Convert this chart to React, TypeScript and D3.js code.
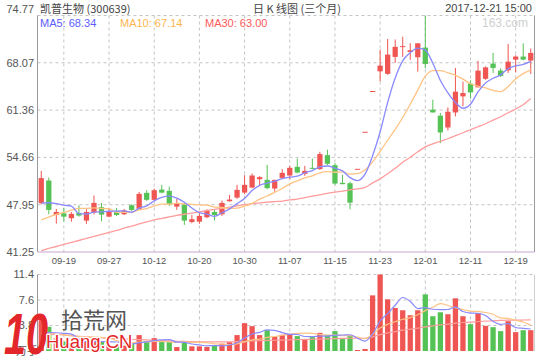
import * as d3 from "d3";

const dates = [
  "09-14", "09-15", "09-18", "09-19", "09-20", "09-21", "09-22", "09-25", "09-26", "09-27", "09-28", "09-29",
  "10-09", "10-10", "10-11", "10-12", "10-13", "10-16", "10-17", "10-18", "10-19", "10-20",
  "10-23", "10-24", "10-25", "10-26", "10-27", "10-30", "10-31",
  "11-01", "11-02", "11-03", "11-06", "11-07", "11-08", "11-09", "11-10", "11-13", "11-14", "11-15",
  "11-16", "11-17", "11-20", "11-21", "11-22", "11-23", "11-24", "11-27", "11-28", "11-29", "11-30",
  "12-01", "12-04", "12-05", "12-06", "12-07", "12-08", "12-11", "12-12", "12-13", "12-14", "12-15",
  "12-18", "12-19", "12-20", "12-21",
];

const opens = [
  48.17, 51.38, 46.5, 46.73, 46.04, 46.79, 45.7, 46.83, 47.6, 46.26, 47.03, 46.6, 47.88, 47.36, 49.63, 48.64,
  50.1, 49.91, 47.68, 47.97, 45.51, 45.55, 46.18, 46.93, 46.6, 48.44, 48.96, 49.67, 50.38, 51.57, 51.48, 50.24,
  51.76, 52.09, 53.32, 52.33, 53.18, 53.0, 54.98, 53.56, 51.05, 51.0, 53.04, 58.29, 64.07, 66.86, 66.5, 68.9,
  70.33, 69.6, 68.85, 70.22, 61.42, 60.57, 58.9, 61.03, 63.31, 65.11, 64.59, 65.8, 67.95, 66.96, 67.0, 68.52,
  68.95, 68.38,
];
const highs = [
  52.75, 51.8, 47.36, 47.5, 46.9, 47.88, 47.31, 49.25, 48.21, 47.4, 47.5, 47.36, 48.02, 49.77, 50.01, 50.24,
  50.77, 50.52, 48.82, 48.35, 46.5, 46.75, 47.31, 47.22, 48.54, 49.35, 50.77, 52.14, 52.37, 52.0, 53.6, 51.48,
  53.0, 53.46, 54.5, 53.46, 54.5, 55.45, 55.74, 53.85, 52.19, 51.23, 53.04, 58.29, 64.07, 69.94, 71.44, 71.37,
  71.77, 70.85, 70.83, 74.77, 62.84, 60.95, 61.74, 67.34, 65.4, 65.58, 68.34, 67.56, 69.47, 67.28, 70.74, 69.14,
  70.83, 70.08,
];
const lows = [
  48.0, 46.6, 45.27, 45.6, 45.55, 46.26, 45.23, 46.55, 45.61, 46.18, 46.36, 46.5, 47.07, 47.22, 48.49, 48.49,
  49.56, 47.78, 47.22, 45.09, 45.33, 45.23, 46.04, 45.7, 46.36, 48.4, 48.78, 49.44, 50.3, 50.62, 50.15, 49.81,
  51.62, 51.58, 52.4, 52.04, 53.0, 52.9, 53.56, 50.77, 50.86, 47.31, 53.04, 58.29, 64.07, 65.44, 66.36, 68.05,
  68.9, 68.48, 66.82, 67.28, 61.03, 56.69, 58.48, 60.47, 61.89, 63.02, 64.59, 65.65, 66.63, 66.06, 66.63, 66.72,
  68.42, 66.49,
];
const closes = [
  51.72, 47.22, 46.93, 46.26, 46.65, 46.41, 46.93, 48.21, 46.55, 47.03, 46.5, 47.12, 47.22, 49.49, 48.64, 50.01,
  49.67, 48.07, 48.11, 45.7, 45.9, 46.36, 47.07, 46.5, 48.21, 48.68, 50.06, 50.77, 52.09, 51.86, 50.3, 51.48,
  52.47, 53.18, 52.51, 52.75, 53.04, 55.13, 53.75, 50.95, 50.86, 48.25, 53.04, 58.29, 64.07, 67.67, 69.23, 70.33,
  70.43, 69.85, 70.83, 67.9, 61.03, 58.2, 61.13, 63.97, 63.78, 63.87, 66.96, 67.42, 67.34, 66.2, 68.23, 68.95,
  68.52, 69.47,
];
// closes of the 9 sessions before the window, for the MA5/MA10 warm-up
const priorCloses = [43.2, 43.0, 43.6, 43.5, 43.7, 47.0, 47.5, 47.4, 47.3];

const ma30 = [
  41.46, 41.75, 42.03, 42.32, 42.6, 42.88, 43.17, 43.45, 43.74, 44.02, 44.3, 44.62, 44.91, 45.23, 45.51, 45.8,
  46.01, 46.22, 46.43, 46.6, 46.76, 46.93, 47.12, 47.29, 47.43, 47.6, 47.78, 47.95, 48.1, 48.21, 48.31, 48.39,
  48.46, 48.64, 48.75, 48.96, 49.16, 49.35, 49.56, 49.73, 49.89, 50.06, 50.2, 50.41, 51.05, 51.62, 52.33, 53.11,
  53.96, 54.67, 55.45, 56.16, 56.59, 56.94, 57.3, 57.73, 58.15, 58.58, 59.0, 59.43, 59.93, 60.42, 60.99, 61.52,
  62.13, 63.0,
];

// volume in 万手
const volumes = [
  4.6, 3.6, 1.9, 1.4, 1.1, 1.0, 1.5, 2.0, 1.4, 0.9, 0.9, 0.8, 1.2, 2.37, 1.48, 1.92,
  1.33, 1.33, 0.59, 1.28, 0.69, 0.69, 0.59, 0.79, 1.09, 1.33, 2.37, 4.15, 3.7, 2.37, 3.1, 2.12,
  2.42, 2.42, 2.22, 1.63, 2.07, 2.71, 2.42, 2.96, 1.78, 2.22, 0.15, 0.3, 8.29, 11.4, 7.7, 6.42,
  6.07, 5.33, 6.07, 8.44, 5.18, 5.77, 5.48, 7.85, 5.18, 4.0, 5.63, 3.75, 3.55, 2.96, 4.44, 2.81,
  3.1, 3.1,
];
const priorVolumes = [3.0, 2.8, 2.6, 2.5, 2.4, 2.2, 2.0, 1.8, 1.7];
const volMa30 = [
  2.6, 2.5, 2.45, 2.4, 2.3, 2.2, 2.1, 2.0, 1.95, 1.9, 1.85, 1.8, 1.75,
  1.7, 1.65, 1.6, 1.55, 1.5, 1.45, 1.42, 1.4, 1.38, 1.36, 1.35, 1.35, 1.36,
  1.4, 1.45, 1.5, 1.55, 1.58, 1.6, 1.63, 1.66, 1.7, 1.72, 1.75, 1.78, 1.8, 1.85, 1.88, 1.9,
  1.9, 1.9, 2.1, 2.45, 2.7, 2.9, 3.1, 3.25, 3.4, 3.6, 3.75, 3.9, 4.0, 4.15, 4.25, 4.3,
  4.4, 4.45, 4.5, 4.55, 4.6, 4.6, 4.62, 4.65,
];

const priceTicks = [41.25, 47.95, 54.66, 61.36, 68.07, 74.77];
const volTicks = [11.4, 7.6, 3.8];
const dateTicks = ["09-19", "09-27", "10-12", "10-20", "10-30", "11-07", "11-15", "11-23", "12-01", "12-11", "12-19"];

const RED = "#ef5552";
const GREEN = "#55c255";
const C_MA5 = "#8a8aff";
const C_MA10 = "#ffc383";
const C_MA30 = "#ff9c9c";
const GRID = "#c4c4c4";
const NUM_FONT = "'Liberation Sans', Arial, sans-serif";
const CJK_FONT = "'Noto Sans CJK SC', sans-serif";

const P = { left: 37.5, right: 534.5, top: 15.5, bottom: 252 };
const V = { top: 274.5, bottom: 351 };

function movingAvg(series: number[], prior: number[], n: number) {
  const all = prior.concat(series);
  return series.map((_, i) => {
    const j = i + prior.length;
    return d3.mean(all.slice(j - n + 1, j + 1)) as number;
  });
}

export default function App() {
  const idx = d3.range(dates.length);
  const x = d3.scaleBand<number>().domain(idx).range([P.left, P.right]).paddingInner(0.3).paddingOuter(0.15);
  const cx = (i: number) => (x(i) as number) + x.bandwidth() / 2;
  const y = d3.scaleLinear().domain([41.25, 74.77]).range([P.bottom, P.top]);
  const yv = d3.scaleLinear().domain([0, 11.4]).range([V.bottom, V.top]);

  const ma5 = movingAvg(closes, priorCloses, 5);
  const ma10 = movingAvg(closes, priorCloses, 10);
  const vma5 = movingAvg(volumes, priorVolumes, 5);
  const vma10 = movingAvg(volumes, priorVolumes, 10);

  const line = (sc: d3.ScaleLinear<number, number>) =>
    d3.line<number>().x((_, i) => cx(i)).y((d) => sc(d)).curve(d3.curveMonotoneX);
  const pLine = line(y);
  const vLine = line(yv);

  const tickX = dateTicks.map((d) => cx(dates.indexOf(d)));
  const up = (i: number) => closes[i] >= opens[i];
  const bw = x.bandwidth();

  return (
    <svg width={540} height={360} style={{ position: "absolute", left: 0, top: 0, background: "#fff" }}>
      {/* header */}
      <text x={40} y={12.5} fontSize={11} fill="#444" fontFamily={CJK_FONT}>凯普生物 (300639)</text>
      <text x={253} y={12.5} fontSize={11} fill="#444" fontFamily={CJK_FONT}>日 K 线图 (三个月)</text>
      <text x={532} y={12} fontSize={11} fill="#444" fontFamily={NUM_FONT} textAnchor="end">2017-12-21 15:00</text>

      {/* price grid */}
      {priceTicks.slice(1, -1).map((t) => (
        <line key={t} x1={P.left} x2={P.right} y1={y(t)} y2={y(t)} stroke={GRID} strokeDasharray="3,3" />
      ))}
      <line x1={P.left} x2={P.right} y1={P.top} y2={P.top} stroke={GRID} strokeDasharray="3,3" />
      {tickX.map((tx, k) => (
        <line key={k} x1={tx} x2={tx} y1={P.top} y2={P.bottom} stroke={GRID} strokeDasharray="3,3" />
      ))}
      <line x1={P.left} x2={P.left} y1={P.top} y2={P.bottom} stroke="#9a9a9a" />
      <line x1={P.right} x2={P.right} y1={P.top} y2={P.bottom} stroke="#9a9a9a" />
      <line x1={P.left} x2={P.right} y1={P.bottom} y2={P.bottom} stroke="#c6a6cf" />

      <text x={528} y={27} fontSize={12} fill="#cfcfcf" fontFamily={NUM_FONT} textAnchor="end">163.com</text>

      {priceTicks.map((t, k) => (
        <text key={t} x={34} y={k === priceTicks.length - 1 ? 9 : y(t)} dy="0.35em" fontSize={11}
          fill="#555" fontFamily={NUM_FONT} textAnchor="end">{t.toFixed(2)}</text>
      ))}

      {/* legend */}
      <text x={40} y={23} dy="0.35em" fontSize={11} fill="#5c5cff" fontFamily={NUM_FONT}>MA5: 68.34</text>
      <text x={120} y={23} dy="0.35em" fontSize={11} fill="#ffb54f" fontFamily={NUM_FONT}>MA10: 67.14</text>
      <text x={205} y={23} dy="0.35em" fontSize={11} fill="#ff5a5a" fontFamily={NUM_FONT}>MA30: 63.00</text>

      {/* candles */}
      {idx.map((i) => {
        const col = up(i) ? RED : GREEN;
        const top = y(Math.max(opens[i], closes[i]));
        const h = Math.max(1, Math.abs(y(opens[i]) - y(closes[i])));
        return (
          <g key={i}>
            <line x1={cx(i)} x2={cx(i)} y1={y(highs[i])} y2={y(lows[i])} stroke={col} />
            <rect x={x(i)} y={top} width={bw} height={h} fill={col} />
          </g>
        );
      })}

      <path d={pLine(ma30) ?? ""} fill="none" stroke={C_MA30} strokeWidth={1.3} />
      <path d={pLine(ma10) ?? ""} fill="none" stroke={C_MA10} strokeWidth={1.3} />
      <path d={pLine(ma5) ?? ""} fill="none" stroke={C_MA5} strokeWidth={1.3} />

      {/* date labels */}
      {dateTicks.map((d, k) => (
        <text key={d} x={tickX[k]} y={261} dy="0.35em" fontSize={9.5} fill="#555" fontFamily={NUM_FONT}
          textAnchor="middle">{d}</text>
      ))}

      {/* volume panel */}
      {volTicks.slice(1).map((t) => (
        <line key={t} x1={P.left} x2={P.right} y1={yv(t)} y2={yv(t)} stroke={GRID} strokeDasharray="3,3" />
      ))}
      <line x1={P.left} x2={P.right} y1={V.top} y2={V.top} stroke={GRID} strokeDasharray="3,3" />
      {tickX.map((tx, k) => (
        <line key={k} x1={tx} x2={tx} y1={V.top} y2={V.bottom} stroke={GRID} strokeDasharray="3,3" />
      ))}
      <line x1={P.left} x2={P.left} y1={V.top} y2={V.bottom} stroke="#9a9a9a" />
      <line x1={P.right} x2={P.right} y1={V.top} y2={V.bottom} stroke="#d0d0d0" />
      {volTicks.map((t) => (
        <text key={t} x={34} y={yv(t)} dy="0.35em" fontSize={11} fill="#555" fontFamily={NUM_FONT}
          textAnchor="end">{t}</text>
      ))}
      {idx.map((i) => (
        <rect key={i} x={x(i)} y={yv(volumes[i])} width={bw} height={V.bottom - yv(volumes[i])}
          fill={up(i) ? RED : GREEN} />
      ))}
      <path d={vLine(volMa30) ?? ""} fill="none" stroke={C_MA30} strokeWidth={1.2} />
      <path d={vLine(vma10) ?? ""} fill="none" stroke={C_MA10} strokeWidth={1.2} />
      <path d={vLine(vma5) ?? ""} fill="none" stroke={C_MA5} strokeWidth={1.2} />
      <text x={16} y={355} fontSize={11} fill="#555" fontFamily={CJK_FONT}>万手</text>

      {/* watermark */}
      <text x={4} y={354} fontSize={58} fontWeight="bold" fontStyle="italic" fill="#e3262a"
        fontFamily={NUM_FONT} textLength={44} lengthAdjust="spacingAndGlyphs">10</text>
      <text x={61} y={328} fontSize={22} fill="#555" fontFamily={CJK_FONT}>拾荒网</text>
      <text x={46} y={348} fontSize={18.5} fill="#e3262a" fontFamily={NUM_FONT} stroke="#fff" strokeWidth={2.5}
        style={{ paintOrder: "stroke" }}>Huang.CN</text>
    </svg>
  );
}
